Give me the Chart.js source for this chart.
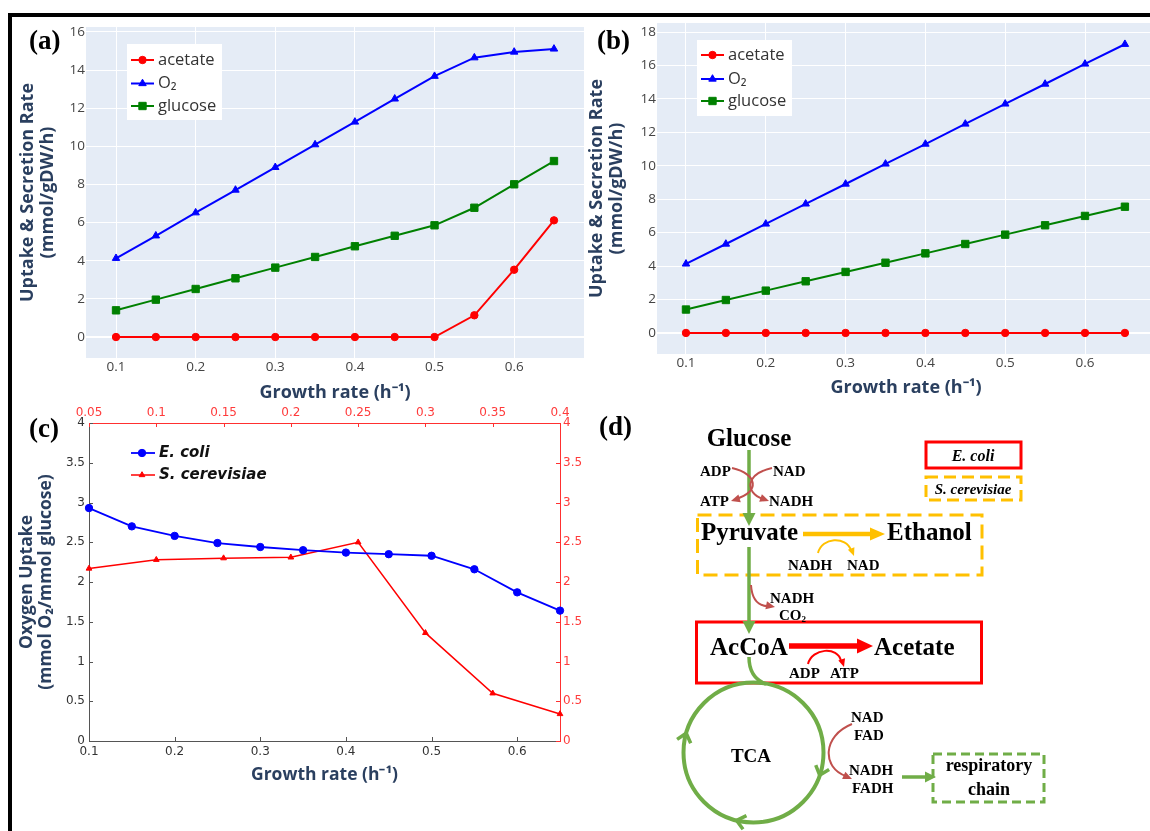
<!DOCTYPE html>
<html><head><meta charset="utf-8">
<script src="https://cdn.jsdelivr.net/npm/chart.js@4.4.1/dist/chart.umd.min.js"></script>
<style>
html,body{margin:0;padding:0;background:#fff;width:1150px;height:831px;overflow:hidden;position:relative}
canvas{position:absolute;display:block}
#ov{position:absolute;left:0;top:0;z-index:5;pointer-events:none}
</style></head><body>
<canvas id="ca" width="600" height="400" style="left:0;top:17px"></canvas>
<canvas id="cb" width="600" height="400" style="left:570px;top:13px"></canvas>
<canvas id="cc" width="600" height="420" style="left:0;top:395px"></canvas>
<svg id="ov" width="1150" height="831" viewBox="0 0 1150 831" xmlns="http://www.w3.org/2000/svg"></svg>
<script>
// ---------------- data ----------------
const growthRates = [0.1, 0.15, 0.2, 0.25, 0.3, 0.35, 0.4, 0.45, 0.5, 0.55, 0.6, 0.65];
const aAcetate = [0, 0, 0, 0, 0, 0, 0, 0, 0, 1.14, 3.53, 6.12];
const aO2 = [4.13, 5.31, 6.52, 7.71, 8.90, 10.09, 11.28, 12.49, 13.68, 14.65, 14.95, 15.11];
const aGlucose = [1.40, 1.96, 2.52, 3.08, 3.64, 4.20, 4.76, 5.31, 5.86, 6.78, 8.01, 9.23];
const bAcetate = [0, 0, 0, 0, 0, 0, 0, 0, 0, 0, 0, 0];
const bO2 = [4.13, 5.32, 6.52, 7.72, 8.91, 10.11, 11.30, 12.50, 13.70, 14.89, 16.09, 17.27];
const bGlucose = [1.40, 1.97, 2.53, 3.09, 3.65, 4.20, 4.76, 5.32, 5.88, 6.44, 7.00, 7.55];
const abXTicks = [0.1, 0.2, 0.3, 0.4, 0.5, 0.6];
const aYTicks = [0, 2, 4, 6, 8, 10, 12, 14, 16];
const bYTicks = [0, 2, 4, 6, 8, 10, 12, 14, 16, 18];
const ecoliRates = [0.1, 0.15, 0.2, 0.25, 0.3, 0.35, 0.4, 0.45, 0.5, 0.55, 0.6, 0.65];
const ecoliO2 = [2.93, 2.70, 2.58, 2.49, 2.44, 2.40, 2.37, 2.35, 2.33, 2.16, 1.87, 1.64];
const yeastRates = [0.05, 0.1, 0.15, 0.2, 0.25, 0.3, 0.35, 0.4];
const yeastO2 = [2.17, 2.28, 2.30, 2.31, 2.50, 1.36, 0.60, 0.34];
const cBottomTicks = [0.1, 0.2, 0.3, 0.4, 0.5, 0.6];
const cTopTicks = [0.05, 0.1, 0.15, 0.2, 0.25, 0.3, 0.35, 0.4];
const cYTicks = [0, 0.5, 1, 1.5, 2, 2.5, 3, 3.5, 4];
const seriesLabels = ['acetate', 'O\u2082', 'glucose'];

// ---------------- helpers ----------------
Chart.defaults.font.family = "'Open Sans', sans-serif";
const navy = '#2a3f5f';
const setTicks = vals => s => { s.ticks = vals.map(v => ({ value: v })); };
const fixSize = (px, dim) => s => { s[dim] = px; };
const pts = (xs, ys) => xs.map((x, i) => ({ x: x, y: ys[i] }));

function ds(label, xs, ys, color, style, r, lw, extra) {
  return Object.assign({
    label: label, data: pts(xs, ys), borderColor: color, backgroundColor: color,
    pointBackgroundColor: color, pointBorderColor: color, pointStyle: style,
    pointRadius: r, pointBorderWidth: 1, borderWidth: lw, tension: 0, clip: false
  }, extra || {});
}
function bgPlugin(color) {
  return { id: 'bg', beforeDraw(chart) {
    const a = chart.chartArea, ctx = chart.ctx; ctx.save(); ctx.fillStyle = color;
    ctx.fillRect(a.left, a.top, a.right - a.left, a.bottom - a.top); ctx.restore(); } };
}
function legendPlugin(o) {
  return { id: 'boxLegend', afterDraw(chart) {
    const ctx = chart.ctx; ctx.save();
    if (o.bg) { ctx.fillStyle = o.bg; ctx.fillRect(o.x, o.y, o.w, o.h); }
    chart.data.datasets.forEach((d, i) => {
      const y = o.rows[i];
      ctx.strokeStyle = d.borderColor; ctx.lineWidth = d.borderWidth;
      ctx.beginPath(); ctx.moveTo(o.x0, y); ctx.lineTo(o.x1, y); ctx.stroke();
      ctx.fillStyle = d.pointBackgroundColor; ctx.strokeStyle = d.pointBorderColor; ctx.lineWidth = 1;
      Chart.helpers.drawPoint(ctx, { pointStyle: d.pointStyle, radius: d.pointRadius, rotation: 0, borderWidth: 1 }, o.mx, y);
      ctx.fillStyle = o.color; ctx.font = o.font; ctx.textBaseline = 'middle'; ctx.textAlign = 'left';
      ctx.fillText(d.label, o.tx, y);
    });
    ctx.restore(); } };
}
function inTicksPlugin(specs) {
  return { id: 'inTicks', afterDraw(chart) {
    const ctx = chart.ctx, a = chart.chartArea; ctx.save(); ctx.lineWidth = 1;
    specs.forEach(sp => {
      const s = chart.scales[sp.id]; ctx.strokeStyle = sp.color;
      s.ticks.forEach(t => {
        const p = Math.round(s.getPixelForValue(t.value)) + 0.5;
        ctx.beginPath();
        if (sp.id === 'x') { ctx.moveTo(p, a.bottom); ctx.lineTo(p, a.bottom - 4); }
        else if (sp.id === 'x2') { ctx.moveTo(p, a.top); ctx.lineTo(p, a.top + 4); }
        else if (sp.id === 'y') { ctx.moveTo(a.left, p); ctx.lineTo(a.left + 4, p); }
        else { ctx.moveTo(a.right, p); ctx.lineTo(a.right - 4, p); }
        ctx.stroke();
      });
    });
    ctx.restore(); } };
}

function plotlyPanel(id, acet, o2, glu, yTicks, yMin, yMax, xMin, xMax, opt) {
  return new Chart(document.getElementById(id), {
    type: 'line',
    data: { datasets: [
      ds(seriesLabels[0], growthRates, acet, '#ff0000', 'circle', 3.7, 2),
      ds(seriesLabels[1], growthRates, o2, '#0000ff', 'triangle', 4.3, 2),
      ds(seriesLabels[2], growthRates, glu, '#008000', 'rect', 5.2, 2)
    ] },
    options: {
      responsive: false, animation: false, events: [],
      layout: { padding: { left: 10, top: 10, right: opt.padRight, bottom: 10 } },
      plugins: { legend: { display: false }, tooltip: { enabled: false } },
      scales: {
        x: { type: 'linear', min: xMin, max: xMax, afterBuildTicks: setTicks(abXTicks), afterFit: fixSize(49, 'height'),
          grid: { color: '#ffffff', lineWidth: 1, drawTicks: false }, border: { display: false },
          ticks: { padding: 1.5, color: '#444', font: { size: 13.5 }, callback: v => String(v) },
          title: { display: true, text: 'Growth rate (h\u207B\u00B9)', color: navy, font: { size: 18, weight: 'bold', lineHeight: 1.1 }, padding: { top: 0, bottom: opt.xTitlePad } } },
        y: { type: 'linear', min: yMin, max: yMax, afterBuildTicks: setTicks(yTicks), afterFit: fixSize(opt.yWidth, 'width'),
          grid: { color: '#ffffff', lineWidth: c => (c.tick && c.tick.value === 0 ? 2 : 1), drawTicks: false }, border: { display: false },
          ticks: { padding: 1, color: '#444', font: { size: 13.5 }, callback: v => String(v) },
          title: { display: true, text: ['Uptake & Secretion Rate', '(mmol/gDW/h)'], color: navy, font: { size: 18, weight: 'bold', lineHeight: 1.1 }, padding: { top: opt.yTitlePad, bottom: 0 } } }
      }
    },
    plugins: [bgPlugin('#e5ecf6'), legendPlugin({ bg: '#ffffff', x: 127, y: 27, w: 95, h: 76, rows: opt.rows, x0: 131, x1: 154, mx: 142.5, tx: 158, font: "16.5px 'Open Sans'", color: '#333' })]
  });
}

plotlyPanel('ca', aAcetate, aO2, aGlucose, aYTicks, -1.1, 16.26, 0.0623, 0.6877, { padRight: 16, yWidth: 76, xTitlePad: 4.1, yTitlePad: 8.1, rows: [43, 66.5, 89] });
plotlyPanel('cb', bAcetate, bO2, bGlucose, bYTicks, -1.26, 18.54, 0.0637, 0.6877, { padRight: 15, yWidth: 77, xTitlePad: 5.1, yTitlePad: 7.1, rows: [42, 66, 88] });

// ---------------- panel c ----------------
const gray = '#555555', redAx = '#ff3030', redTxt = '#ff3b3b';
new Chart(document.getElementById('cc'), {
  type: 'line',
  data: { datasets: [
    ds('E. coli', ecoliRates, ecoliO2, '#0000ff', 'circle', 3.7, 1.8, { xAxisID: 'x', yAxisID: 'y' }),
    ds('S. cerevisiae', yeastRates, yeastO2, '#ff0000', 'triangle', 3.3, 1.5, { xAxisID: 'x2', yAxisID: 'y2' })
  ] },
  options: {
    responsive: false, animation: false, events: [],
    layout: { padding: { left: 10, top: 5, right: 10, bottom: 29 } },
    plugins: { legend: { display: false }, tooltip: { enabled: false } },
    scales: {
      x: { type: 'linear', position: 'bottom', min: 0.1, max: 0.65, afterBuildTicks: setTicks(cBottomTicks), afterFit: fixSize(45, 'height'),
        grid: { display: false, drawTicks: false }, border: { display: true, color: gray, width: 1 },
        ticks: { padding: 4, color: '#333', font: { size: 12, family: "'DejaVu Sans'" }, callback: v => String(v) },
        title: { display: true, text: 'Growth rate (h\u207B\u00B9)', color: navy, font: { size: 17.5, weight: 'bold', lineHeight: 1.1 }, padding: { top: 0, bottom: 1.4 } } },
      x2: { type: 'linear', position: 'top', min: 0.05, max: 0.4, afterBuildTicks: setTicks(cTopTicks), afterFit: fixSize(23, 'height'),
        grid: { display: false, drawTicks: false }, border: { display: true, color: redAx, width: 1 },
        ticks: { padding: 3, color: redTxt, font: { size: 12, family: "'DejaVu Sans'" }, callback: v => String(v) } },
      y: { type: 'linear', position: 'left', min: 0, max: 4, afterBuildTicks: setTicks(cYTicks), afterFit: fixSize(79, 'width'),
        grid: { display: false, drawTicks: false }, border: { display: true, color: gray, width: 1 },
        ticks: { padding: 4, color: '#333', font: { size: 12, family: "'DejaVu Sans'" }, callback: v => String(v) },
        title: { display: true, text: ['Oxygen Uptake', '(mmol O\u2082/mmol glucose)'], color: navy, font: { size: 17.5, weight: 'bold', lineHeight: 1.1 }, padding: { top: 7.5, bottom: 0 } } },
      y2: { type: 'linear', position: 'right', min: 0, max: 4, afterBuildTicks: setTicks(cYTicks), afterFit: fixSize(30, 'width'),
        grid: { display: false, drawTicks: false }, border: { display: true, color: redAx, width: 1 },
        ticks: { padding: 3, color: redTxt, font: { size: 12, family: "'DejaVu Sans'" }, callback: v => String(v) } }
    }
  },
  plugins: [
    inTicksPlugin([{ id: 'x', color: gray }, { id: 'y', color: gray }, { id: 'x2', color: redAx }, { id: 'y2', color: redAx }]),
    legendPlugin({ x0: 131, x1: 155, mx: 142, tx: 159, rows: [58, 80], font: "italic bold 15px 'DejaVu Sans'", color: '#111' })
  ]
});

// ---------------- frame, panel labels, diagram (d) ----------------
const NS = 'http://www.w3.org/2000/svg';
const svg = document.getElementById('ov');
function add(tag, attrs, text) {
  const e = document.createElementNS(NS, tag);
  for (const k in attrs) e.setAttribute(k, attrs[k]);
  if (text !== undefined) e.textContent = text;
  svg.appendChild(e); return e;
}
function head(tx, ty, fx, fy, len, wid, color) {
  const a = Math.atan2(ty - fy, tx - fx);
  const bx = tx - len * Math.cos(a), by = ty - len * Math.sin(a);
  const nx = -Math.sin(a) * wid / 2, ny = Math.cos(a) * wid / 2;
  add('polygon', { points: `${tx},${ty} ${bx + nx},${by + ny} ${bx - nx},${by - ny}`, fill: color });
}
function arrowLine(x0, y0, x1, y1, w, color, len, wid) {
  const a = Math.atan2(y1 - y0, x1 - x0);
  add('line', { x1: x0, y1: y0, x2: x1 - len * 0.7 * Math.cos(a), y2: y1 - len * 0.7 * Math.sin(a), stroke: color, 'stroke-width': w });
  head(x1, y1, x0, y0, len, wid, color);
}
function curveArrow(d, tip, from, w, color, len, wid) {
  add('path', { d: d, fill: 'none', stroke: color, 'stroke-width': w });
  head(tip[0], tip[1], from[0], from[1], len, wid, color);
}
function txt(x, y, s, size, anchor, extra) {
  return add('text', Object.assign({ x: x, y: y, 'font-family': "'Liberation Serif', 'Times New Roman', serif", 'font-weight': 'bold', 'font-size': size, 'text-anchor': anchor || 'start', fill: '#000' }, extra || {}), s);
}

// frame
add('rect', { x: 8, y: 13, width: 1142, height: 4, fill: '#000' });
add('rect', { x: 8, y: 13, width: 4, height: 818, fill: '#000' });
// panel labels
txt(29, 49, '(a)', 27); txt(597, 49, '(b)', 27); txt(29, 437, '(c)', 27); txt(599, 435, '(d)', 27);

const G = '#70ad47', O = '#ffc000', B = '#c0504d', R = '#ff0000';
// boxes
add('rect', { x: 697.5, y: 515, width: 284.5, height: 60, fill: 'none', stroke: O, 'stroke-width': 3, 'stroke-dasharray': '14 7' });
add('rect', { x: 696.5, y: 622, width: 285, height: 61, fill: 'none', stroke: R, 'stroke-width': 3 });
add('rect', { x: 926, y: 442, width: 95, height: 26, fill: 'none', stroke: R, 'stroke-width': 3 });
add('rect', { x: 926, y: 477, width: 95, height: 23, fill: 'none', stroke: O, 'stroke-width': 3, 'stroke-dasharray': '12 6' });
add('rect', { x: 933, y: 754, width: 111, height: 48, fill: 'none', stroke: G, 'stroke-width': 3, 'stroke-dasharray': '9 5' });

// main green path
arrowLine(749, 450, 749, 526, 3.5, G, 13, 13);
arrowLine(749, 547, 749, 634, 3.5, G, 13, 13);
add('path', { d: 'M749,657 C749,672 755,680 766,684', fill: 'none', stroke: G, 'stroke-width': 3.5 });
// TCA circle
const cx = 753.5, cy = 752.5, cr = 70;
add('circle', { cx: cx, cy: cy, r: cr, fill: 'none', stroke: G, 'stroke-width': 4 });
[-164, 19, 104].forEach(deg => {
  const t = deg * Math.PI / 180;
  const px = cx + cr * Math.cos(t), py = cy + cr * Math.sin(t);
  const back = Math.atan2(-Math.cos(t), Math.sin(t));
  const sp = 40 * Math.PI / 180, arm = 11;
  const p1 = [px + arm * Math.cos(back + sp), py + arm * Math.sin(back + sp)];
  const p2 = [px + arm * Math.cos(back - sp), py + arm * Math.sin(back - sp)];
  add('polyline', { points: `${p1[0]},${p1[1]} ${px},${py} ${p2[0]},${p2[1]}`, fill: 'none', stroke: G, 'stroke-width': 3.5 });
});
arrowLine(902, 777, 936, 777, 3.5, G, 11, 11);

// side reactions
curveArrow('M732,468 C758,474 760,492 736,499', [731, 501], [760, 492], 2, B, 9, 8);
curveArrow('M772,468 C746,474 744,492 763,499', [769, 501], [744, 492], 2, B, 9, 8);
curveArrow('M751,585 C752,600 758,606 768,606', [775, 607], [760, 604], 2, B, 9, 8);
curveArrow('M852,724 C822,736 822,768 846,776', [852, 779], [836, 772], 2, B, 9, 8);
arrowLine(803, 534, 885, 534, 4.5, O, 15, 13);
curveArrow('M818,553 C822,537 846,536 851,550', [854, 556], [849, 543], 2, O, 8, 7);
arrowLine(789, 646, 873, 646, 5.5, R, 16, 15);
curveArrow('M808,664 C812,648 838,646 841,661', [844, 667], [840, 654], 2, R, 8, 7);

// texts
txt(749, 446, 'Glucose', 25, 'middle');
txt(700, 476, 'ADP', 15); txt(773, 476, 'NAD', 15);
txt(700, 506, 'ATP', 15); txt(769, 506, 'NADH', 15);
txt(701, 540, 'Pyruvate', 25); txt(887, 540, 'Ethanol', 25);
txt(788, 570, 'NADH', 15); txt(847, 570, 'NAD', 15);
txt(770, 603, 'NADH', 15);
const co2 = txt(779, 620, 'CO', 15);
const sub = document.createElementNS(NS, 'tspan'); sub.setAttribute('font-size', 9); sub.setAttribute('dy', 2); sub.textContent = '2'; co2.appendChild(sub);
txt(710, 655, 'AcCoA', 25); txt(874, 655, 'Acetate', 25);
txt(789, 678, 'ADP', 15); txt(830, 678, 'ATP', 15);
txt(751, 762, 'TCA', 19, 'middle');
txt(851, 722, 'NAD', 15); txt(854, 740, 'FAD', 15);
txt(849, 775, 'NADH', 15); txt(852, 793, 'FADH', 15);
txt(989, 771, 'respiratory', 18, 'middle'); txt(989, 795, 'chain', 18, 'middle');
txt(973, 461, 'E. coli', 16, 'middle', { 'font-style': 'italic' });
txt(973, 494, 'S. cerevisiae', 15, 'middle', { 'font-style': 'italic' });
</script>
</body></html>
